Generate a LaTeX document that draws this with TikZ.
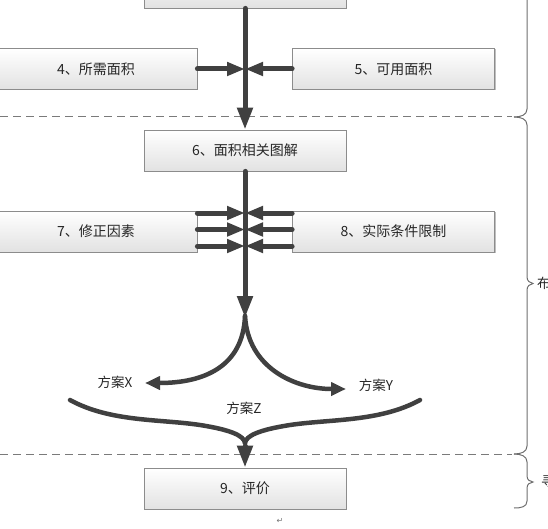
\documentclass[tikz,border=0pt]{standalone}
\usepackage{fontspec}
\newfontfamily\cjk{Noto Sans CJK SC}
\newfontfamily\djv{DejaVu Sans}
\usetikzlibrary{arrows.meta,shadows}
\definecolor{ink}{HTML}{404040}
\definecolor{boxline}{HTML}{8C8C8C}
\definecolor{boxbot}{HTML}{E2E2E2}
\definecolor{dashc}{HTML}{7A7A7A}
\definecolor{bracec}{HTML}{6E6E6E}
\definecolor{txt}{HTML}{262626}
\begin{document}
\begin{tikzpicture}[x=1bp,y=-1bp,
  box/.style={draw=boxline, line width=0.8bp, top color=white, bottom color=boxbot,
    minimum width=202bp, minimum height=41bp, inner sep=0pt,
    general shadow={fill=black!25, shadow xshift=1bp, shadow yshift=-1bp},
    font=\cjk\fontsize{14bp}{16bp}\selectfont, text=txt},
  lbl/.style={inner sep=0pt, font=\cjk\fontsize{13.5bp}{16bp}\selectfont, text=txt},
  flow/.style={draw=ink, line width=5bp, line cap=round},
  curveflow/.style={draw=ink, line width=4.5bp, line cap=round},
  vhead/.style={-{Triangle[length=22bp,width=15bp]}},
  hhead/.style={-{Triangle[length=18bp,width=13bp]}},
  chead/.style={-{Triangle[length=15bp,width=13bp]}},
  sepline/.style={draw=dashc, line width=1bp, dash pattern=on 8bp off 5bp},
  bracel/.style={draw=bracec, line width=1bp}
]
\useasboundingbox (0,0) rectangle (548,529);

% boxes
\node[box] (top) at (245,-12.5) {};
\node[box] (b4) at (96,69) {4、所需面积};
\node[box] (b5) at (393.5,69) {5、可用面积};
\node[box] (b6) at (245,150.5) {6、面积相关图解};
\node[box] (b7) at (96,231.5) {7、修正因素};
\node[box] (b8) at (393.5,231.5) {8、实际条件限制};
\node[box] (b9) at (245,488.5) {9、评价};

% junction coordinates
\coordinate (j45) at (245,69);
\coordinate (j1) at (245,213);
\coordinate (j2) at (245,229.5);
\coordinate (j3) at (245,246);
\coordinate (split) at (245,316);
\coordinate (xtip) at (145,383);
\coordinate (ytip) at (346,389);
\coordinate (bl) at (70,400);
\coordinate (br) at (420,400);
\coordinate (merge) at (245,443);

% separators
\coordinate (s1a) at (0,117);
\coordinate (s1b) at (512,117);
\coordinate (s2a) at (0,454);
\coordinate (s2b) at (512,454);
\draw[sepline] (s1a) -- (s1b);
\draw[sepline] (s2a) -- (s2b);

% horizontal arrows
\draw[flow,hhead] (b4.east) -- (j45);
\draw[flow,hhead] (b5.west) -- (j45);
\foreach \j in {j1,j2,j3}{
  \draw[flow,hhead] (b7.east |- \j) -- (\j);
  \draw[flow,hhead] (b8.west |- \j) -- (\j);
}

% vertical arrows
\draw[flow,vhead] (top.south) -- (b6.north);
\draw[flow,vhead] (b6.south) -- ([yshift=-2bp]split);

% split curves
\draw[curveflow,chead] (split) .. controls (243,366) and (205,383) .. (xtip);
\draw[curveflow,chead] (split) .. controls (248,368) and (295,389) .. (ytip);

% merging brace
\draw[curveflow] (bl) .. controls (110,422) and (160,419) .. (200,425)
  .. controls (232,430) and (244,436) .. (merge);
\draw[curveflow] (br) .. controls (380,422) and (330,419) .. (290,425)
  .. controls (258,430) and (246,436) .. (merge);
\draw[flow,vhead] ([yshift=-3bp]merge) -- (b9.north);

% labels
\node[lbl] (lx) at (115,382) {方案X};
\node[lbl] (ly) at (376,385) {方案Y};
\node[lbl] (lz) at (244,408) {方案Z};

% right-hand braces
\draw[bracel] (527,-5) -- (527,109) .. controls (527,115) and (521,117) .. (514,117);
\draw[bracel] (514,117) .. controls (521,117) and (527,119) .. (527,125) -- (527,277)
  .. controls (527,281) and (530,283) .. (533,283.5)
  .. controls (530,284) and (527,286) .. (527,290) -- (527,446)
  .. controls (527,452) and (521,454) .. (514,454);
\draw[bracel] (514,454) .. controls (521,454) and (527,456) .. (527,462) -- (527,476)
  .. controls (527,480) and (530,481.5) .. (533,482)
  .. controls (530,482.5) and (527,484) .. (527,488) -- (527,501)
  .. controls (527,507) and (521,508) .. (514,508);
\node[lbl, anchor=west] (t2) at (537,283.5) {布};
\node[lbl, anchor=west] (t3) at (541,482) {寻};

% paragraph mark
\node[inner sep=0pt, font=\djv\fontsize{8bp}{9bp}\selectfont, text=black!55] (pm) at (280,521) {↵};
\end{tikzpicture}
\end{document}
